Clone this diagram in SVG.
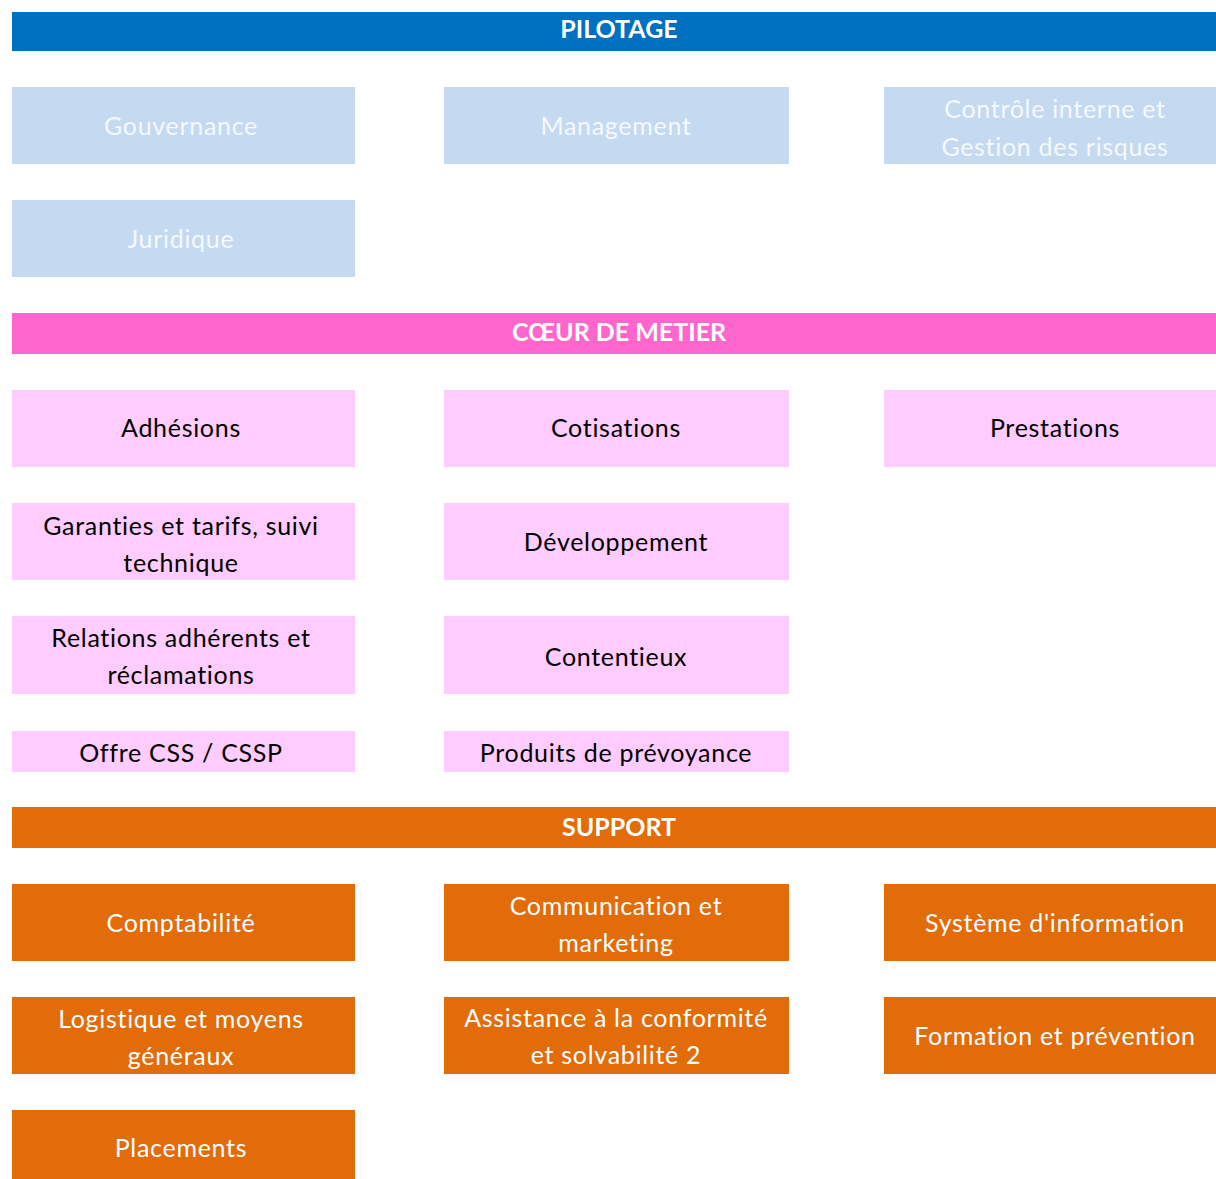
<svg xmlns="http://www.w3.org/2000/svg" width="1216" height="1179" viewBox="0 0 1216 1179">
<style>
text{font-family:Lato,"Liberation Sans",sans-serif;font-size:25px;text-anchor:middle;font-variant-ligatures:none;letter-spacing:0.7px}
.hd{font-weight:bold;fill:#fff;letter-spacing:0}
.p rect{fill:#C5D9F1}.p text{fill:#fff;fill-opacity:0.85}
.m rect{fill:#FFCCFF}.m text{fill:#000}
.s rect{fill:#E26B0A}.s text{fill:#fff}
</style>
<rect width="1216" height="1179" fill="#fff"/>
<g id="h-pilotage"><rect x="12" y="12" width="1214" height="39" fill="#0070C0"/><text class="hd" x="619" y="38">PILOTAGE</text></g>
<g id="n-gouvernance" class="p"><rect x="12" y="87" width="343" height="77"/><text x="181" y="135">Gouvernance</text></g>
<g id="n-management" class="p"><rect x="444" y="87" width="345" height="77"/><text x="616" y="135">Management</text></g>
<g id="n-controle" class="p"><rect x="884" y="87" width="342" height="77"/><text x="1055" y="118">Contrôle interne et</text><text x="1055" y="156">Gestion des risques</text></g>
<g id="n-juridique" class="p"><rect x="12" y="200" width="343" height="77"/><text x="181" y="248">Juridique</text></g>
<g id="h-coeur"><rect x="12" y="313" width="1214" height="41" fill="#FF66CC"/><text class="hd" x="619" y="341">CŒUR DE METIER</text></g>
<g id="n-adhesions" class="m"><rect x="12" y="390" width="343" height="77"/><text x="181" y="437">Adhésions</text></g>
<g id="n-cotisations" class="m"><rect x="444" y="390" width="345" height="77"/><text x="616" y="437">Cotisations</text></g>
<g id="n-prestations" class="m"><rect x="884" y="390" width="342" height="77"/><text x="1055" y="437">Prestations</text></g>
<g id="n-garanties" class="m"><rect x="12" y="503" width="343" height="77"/><text x="181" y="535">Garanties et tarifs, suivi</text><text x="181" y="572">technique</text></g>
<g id="n-developpement" class="m"><rect x="444" y="503" width="345" height="77"/><text x="616" y="551">Développement</text></g>
<g id="n-relations" class="m"><rect x="12" y="616" width="343" height="78"/><text x="181" y="647">Relations adhérents et</text><text x="181" y="684">réclamations</text></g>
<g id="n-contentieux" class="m"><rect x="444" y="616" width="345" height="78"/><text x="616" y="666">Contentieux</text></g>
<g id="n-offre" class="m"><rect x="12" y="731" width="343" height="41"/><text x="181" y="762">Offre CSS / CSSP</text></g>
<g id="n-produits" class="m"><rect x="444" y="731" width="345" height="41"/><text x="616" y="762">Produits de prévoyance</text></g>
<g id="h-support"><rect x="12" y="807" width="1214" height="41" fill="#E26B0A"/><text class="hd" x="619" y="836">SUPPORT</text></g>
<g id="n-comptabilite" class="s"><rect x="12" y="884" width="343" height="77"/><text x="181" y="932">Comptabilité</text></g>
<g id="n-communication" class="s"><rect x="444" y="884" width="345" height="77"/><text x="616" y="915">Communication et</text><text x="616" y="952">marketing</text></g>
<g id="n-systeme" class="s"><rect x="884" y="884" width="342" height="77"/><text x="1055" y="932">Système d'information</text></g>
<g id="n-logistique" class="s"><rect x="12" y="997" width="343" height="77"/><text x="181" y="1028">Logistique et moyens</text><text x="181" y="1065">généraux</text></g>
<g id="n-assistance" class="s"><rect x="444" y="997" width="345" height="77"/><text x="616" y="1027">Assistance à la conformité</text><text x="616" y="1064">et solvabilité 2</text></g>
<g id="n-formation" class="s"><rect x="884" y="997" width="342" height="77"/><text x="1055" y="1045">Formation et prévention</text></g>
<g id="n-placements" class="s"><rect x="12" y="1110" width="343" height="77"/><text x="181" y="1157">Placements</text></g>
<g id="connectors"/>
</svg>
